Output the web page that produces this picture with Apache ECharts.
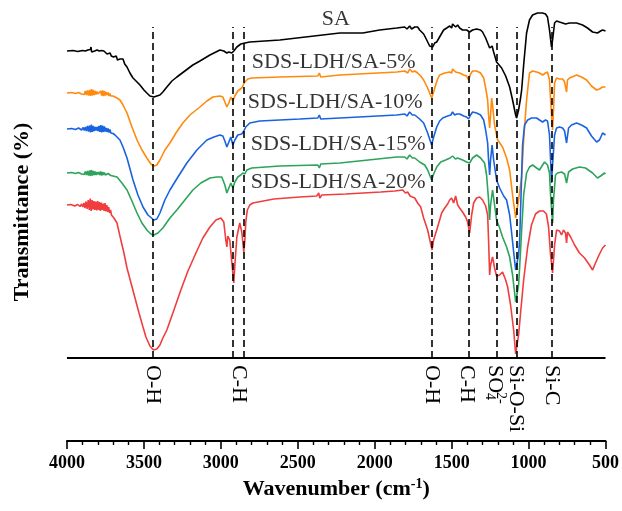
<!DOCTYPE html>
<html>
<head>
<meta charset="utf-8">
<script src="https://cdn.jsdelivr.net/npm/echarts@6/dist/echarts.min.js"></script>
<style>
  html, body { margin: 0; padding: 0; background: #fff; }
  #chart { width: 622px; height: 511px; }
</style>
</head>
<body>
<div id="chart"></div>
<script>
// FTIR spectra, stacked with vertical offsets: [wavenumber (cm-1), offset transmittance]
const seriesNames = ['SA', 'SDS-LDH/SA-5%', 'SDS-LDH/SA-10%', 'SDS-LDH/SA-15%', 'SDS-LDH/SA-20%'];
const seriesColors = ['#000000', '#ff8a0e', '#1a63e0', '#2ea35c', '#f03e3e'];

const spectrumSA = [
  [4000,307],[3960,307.5],[3930,306.5],[3900,307.5],[3880,307],[3865,308],[3855,306.5],[3848,308.5],[3844,311],[3840,306],
  [3832,308],[3820,307],[3805,308],[3790,307],[3775,307.5],[3760,307],[3750,306],[3740,304],[3730,303],[3720,305],
  [3712,302],[3705,304],[3698,301],[3690,303],[3680,302],[3672,298],[3665,300],[3656,299],[3645,297],[3636,299],
  [3625,294],[3610,291],[3591,285],[3571,280],[3545,276],[3526,273],[3500,268],[3481,265],[3461,262],[3435,261],
  [3416,262],[3396,263],[3377,266],[3351,271],[3318,277],[3286,281],[3234,287],[3182,293],[3136,297],[3071,303],
  [3006,308],[2981,307],[2961,305],[2948,306],[2929,305],[2916,307],[2896,311],[2870,314],[2844,315],[2812,316],
  [2617,318],[2227,325],[2078,325],[1968,328],[1857,330],[1805,331],[1790,329],[1773,332],[1760,329],[1740,331],
  [1721,331],[1708,328],[1682,324],[1662,318],[1643,312],[1633,310],[1623,311],[1610,315],[1597,316],[1571,323],
  [1552,328],[1532,330],[1513,332],[1500,330],[1494,334],[1474,331],[1461,333],[1448,330],[1429,328],[1403,328],
  [1383,326],[1364,328],[1338,329],[1312,328],[1299,326],[1279,320],[1266,315],[1253,310],[1247,308],[1237,312],
  [1227,306],[1208,296],[1175,290],[1149,282],[1123,271],[1104,258],[1084,243],[1078,240],[1065,248],[1052,260],
  [1045,268],[1032,293],[1013,325],[994,338],[974,343],[942,345],[909,345],[890,344],[877,341],[864,328],
  [851,311],[844,318],[831,335],[818,337],[799,336],[779,335],[760,334],[753,336],[734,335],[688,335],
  [649,333],[617,330],[584,326],[552,325],[532,327],[519,328],[500,327]
];

const spectrum5 = [
  [4000,265],[3970,265.5],[3945,264.5],[3925,265.5],[3905,264],[3895,266],[3888,263.5],[3881,267],[3874,263],[3867,267.5],
  [3860,262.5],[3853,268],[3847,262],[3841,269],[3835,262.5],[3829,268],[3823,263],[3817,267],[3811,263.5],[3805,266.5],
  [3799,264],[3793,266],[3787,263.5],[3781,267],[3775,262.5],[3769,267.5],[3763,262],[3757,267],[3751,262.5],[3745,266],
  [3739,263],[3733,265.5],[3727,262],[3721,264.5],[3715,262],[3709,263],[3701,262],[3688,261],[3675,260],[3656,258],
  [3636,253],[3610,245],[3578,231],[3545,218],[3513,208],[3481,200],[3455,194],[3435,192],[3416,193],[3396,198],
  [3364,208],[3331,215],[3292,225],[3247,235],[3201,243],[3136,251],[3091,257],[3052,261],[3006,262],[2987,261],
  [2974,256],[2961,251],[2948,255],[2935,261],[2922,257],[2909,262],[2890,267],[2864,270],[2844,276],[2825,279],
  [2799,280],[2617,281],[2370,282],[2360,285],[2351,281],[2227,283],[1857,286],[1805,287],[1785,285],[1773,289],
  [1755,286],[1740,287],[1721,285],[1701,282],[1682,278],[1656,270],[1643,265],[1630,260],[1617,266],[1604,273],
  [1591,279],[1578,283],[1545,285],[1513,286],[1500,285],[1494,289],[1474,286],[1448,285],[1422,283],[1403,282],
  [1390,278],[1377,284],[1364,287],[1338,287],[1312,285],[1292,280],[1279,270],[1266,258],[1260,243],[1253,230],
  [1247,243],[1240,260],[1234,253],[1221,233],[1201,218],[1169,211],[1143,200],[1123,188],[1104,163],[1084,140],
  [1078,142],[1065,158],[1045,181],[1032,218],[1013,258],[994,285],[974,287],[948,286],[929,285],[909,283],
  [890,285],[877,286],[864,278],[857,258],[844,228],[838,248],[831,275],[818,280],[799,279],[779,279],
  [766,276],[753,266],[747,278],[734,280],[688,283],[656,281],[623,278],[591,272],[558,268],[539,269],
  [519,271],[500,271]
];

const spectrum10 = [
  [4000,229],[3970,229.5],[3945,228.5],[3925,230],[3905,228],[3895,230.5],[3888,227.5],[3881,231],[3874,227],[3867,232],
  [3860,226.5],[3853,232.5],[3847,225.5],[3841,233.5],[3835,226],[3829,232],[3823,227],[3817,231],[3811,227.5],[3805,231],
  [3799,227],[3793,232],[3787,226],[3781,233],[3775,225.5],[3769,232.5],[3763,226],[3757,231.5],[3751,226.5],[3745,230],
  [3739,226],[3733,229.5],[3727,225.5],[3721,228.5],[3715,225],[3709,227],[3701,224.5],[3688,223],[3656,218],[3636,211],
  [3610,200],[3571,178],[3539,163],[3506,151],[3474,143],[3435,138],[3416,139],[3396,145],[3364,158],[3331,168],
  [3279,181],[3221,195],[3156,208],[3091,218],[3045,221],[3006,223],[2987,222],[2974,217],[2961,211],[2948,216],
  [2935,221],[2922,213],[2909,218],[2890,223],[2864,224],[2851,227],[2838,231],[2812,235],[2747,237],[2487,239],
  [2370,240],[2360,243],[2351,239],[2227,240],[1857,243],[1805,244],[1790,242],[1773,246],[1755,243],[1740,243],
  [1708,239],[1682,235],[1656,225],[1643,219],[1630,213],[1617,221],[1597,231],[1578,237],[1558,240],[1526,242],
  [1505,243],[1494,246],[1480,243],[1467,244],[1448,244],[1422,242],[1403,241],[1390,239],[1377,243],[1364,246],
  [1338,245],[1312,243],[1292,238],[1279,228],[1266,215],[1260,198],[1253,183],[1247,198],[1237,213],[1227,198],
  [1208,178],[1188,170],[1162,162],[1143,158],[1123,143],[1110,125],[1097,106],[1084,88],[1078,90],[1065,103],
  [1058,118],[1052,148],[1045,183],[1039,213],[1026,233],[1006,238],[981,240],[948,240],[929,238],[909,236],
  [890,238],[877,237],[864,223],[857,198],[851,175],[844,193],[831,223],[818,230],[799,231],[779,230],
  [766,227],[753,215],[740,230],[721,233],[688,235],[656,233],[623,230],[591,222],[558,216],[539,218],
  [519,225],[500,223]
];

const spectrum15 = [
  [4000,185],[3970,185.5],[3945,184.5],[3925,185.5],[3905,184],[3895,186],[3888,183.5],[3881,186.5],[3874,183],[3867,187],
  [3860,182.5],[3853,187.5],[3847,182],[3841,188],[3835,182.5],[3829,187],[3823,183],[3817,186.5],[3811,183],[3805,186],
  [3799,183.5],[3793,186],[3787,183],[3781,186.5],[3775,182.5],[3769,186],[3763,183],[3757,185.5],[3751,183],[3745,185],
  [3739,183],[3733,184.5],[3727,182.5],[3721,184],[3715,182.5],[3709,183],[3701,182],[3675,181],[3643,175],[3610,168],
  [3578,157],[3545,145],[3513,135],[3481,128],[3455,124],[3435,123],[3409,125],[3377,130],[3331,140],[3286,148],
  [3234,158],[3182,168],[3130,175],[3071,180],[3026,181],[2994,181],[2974,173],[2961,165],[2948,170],[2935,175],
  [2922,170],[2909,176],[2890,181],[2870,183],[2857,185],[2844,184],[2831,188],[2799,190],[2617,192],[2370,193],
  [2360,190],[2351,194],[2227,195],[1857,201],[1805,201],[1790,199],[1773,203],[1755,200],[1740,200],[1708,196],
  [1675,193],[1656,188],[1643,183],[1630,178],[1617,184],[1597,191],[1571,196],[1539,198],[1510,200],[1494,202],
  [1475,199],[1461,200],[1429,198],[1403,196],[1383,195],[1364,200],[1338,203],[1312,200],[1286,195],[1273,183],
  [1260,158],[1253,138],[1247,153],[1234,168],[1221,153],[1208,138],[1188,130],[1169,121],[1143,111],[1123,101],
  [1104,83],[1084,56],[1078,58],[1065,73],[1058,91],[1045,128],[1032,163],[1013,185],[994,191],[974,193],
  [948,190],[929,188],[909,193],[896,196],[877,193],[864,185],[857,163],[844,135],[838,158],[825,183],
  [812,185],[786,186],[766,184],[753,175],[740,186],[714,189],[669,191],[630,190],[584,185],[552,180],
  [532,182],[506,185],[500,184]
];

const spectrum20 = [
  [4000,153],[3975,153.5],[3950,152],[3930,153.5],[3915,151.5],[3905,154],[3897,151],[3890,155],[3883,150],[3876,156.5],
  [3869,149],[3862,158],[3855,148],[3849,159.5],[3843,147],[3837,158],[3831,148.5],[3825,157],[3819,148],[3813,156.5],
  [3807,147.5],[3801,157],[3795,148],[3789,156],[3783,147],[3777,155.5],[3771,148],[3765,154.5],[3759,147],[3753,155],
  [3747,146.5],[3741,153],[3735,146],[3729,151],[3723,145],[3717,148],[3711,143],[3704,144],[3695,140],[3675,135],
  [3656,122],[3630,105],[3610,90],[3584,75],[3558,60],[3532,45],[3506,31],[3487,21],[3461,12],[3438,8],
  [3416,9],[3396,13],[3377,20],[3351,28],[3305,48],[3260,68],[3214,87],[3162,105],[3117,120],[3071,131],
  [3032,138],[3000,140],[2981,136],[2968,118],[2961,111],[2955,122],[2942,118],[2929,96],[2916,75],[2909,93],
  [2896,121],[2877,135],[2864,126],[2851,106],[2844,118],[2838,136],[2828,148],[2812,153],[2792,155],[2656,159],
  [2487,161],[2377,162],[2364,165],[2357,160],[2344,163],[2188,164],[1961,166],[1870,167],[1818,168],[1800,165],
  [1786,166],[1770,162],[1760,163],[1740,160],[1721,155],[1701,151],[1682,140],[1656,128],[1636,114],[1627,108],
  [1617,118],[1597,128],[1578,138],[1565,145],[1545,150],[1526,154],[1513,158],[1500,160],[1487,155],[1474,162],
  [1461,153],[1448,150],[1429,146],[1409,141],[1396,136],[1383,125],[1370,143],[1357,155],[1338,160],[1318,161],
  [1299,158],[1279,152],[1266,143],[1260,118],[1253,83],[1247,93],[1234,101],[1221,90],[1208,82],[1188,83],
  [1169,86],[1149,78],[1136,71],[1117,53],[1097,28],[1084,4],[1078,5],[1065,23],[1052,45],[1032,78],
  [1006,111],[981,133],[955,144],[929,147],[903,147],[884,144],[870,131],[857,103],[844,85],[831,113],
  [818,128],[799,127],[786,123],[773,128],[760,125],[753,115],[747,126],[727,121],[701,113],[669,105],
  [636,100],[604,93],[584,88],[565,95],[545,102],[519,110],[500,113]
];

const spectra = [spectrumSA, spectrum5, spectrum10, spectrum15, spectrum20];

// Name tags next to each trace: [wavenumber at left edge of text, offset value]
const seriesTagPos = [[2344,339],[2799,296],[2825,256],[2805,214],[2805,176]];

// Band assignments: dashed guide positions and the labels under the base line
const bandLines = [3440, 2920, 2850, 1630, 1390, 1210, 1080, 850];
const bandLineTop = 331;
const bandLabels = [
  [3440, 'O-H'], [2885, 'C-H'], [1630, 'O-H'], [1400, 'C-H'],
  [1222, 'SO4'], [1080, 'Si-O-Si'], [850, 'Si-C']
];

// X axis range and tick step
const xMin = 500, xMax = 4000, xStep = 500;

const FONT = '"Liberation Serif", "Times New Roman", serif';

const chart = echarts.init(document.getElementById('chart'), null, { renderer: 'canvas' });

const lineSeries = spectra.map((d, i) => ({
  name: seriesNames[i],
  type: 'line',
  data: d,
  showSymbol: false,
  symbol: 'none',
  lineStyle: { color: seriesColors[i], width: 1.6 },
  itemStyle: { color: seriesColors[i] },
  z: 3,
  animation: false
}));

const tagSeries = {
  type: 'scatter',
  symbolSize: 0,
  silent: true,
  data: seriesTagPos.map((p, i) => ({ value: p, name: seriesNames[i] })),
  label: {
    show: true,
    position: 'inside',
    align: 'left',
    verticalAlign: 'middle',
    formatter: p => p.name,
    fontFamily: FONT,
    fontSize: 22,
    color: '#000'
  },
  z: 6,
  animation: false
};

const guideSeries = {
  type: 'line',
  data: [],
  silent: true,
  z: 5,
  markLine: {
    symbol: 'none',
    silent: true,
    label: { show: false },
    animation: false,
    data: [
      { yAxis: 0, lineStyle: { type: 'solid', width: 2, color: '#000' } },
      ...bandLines.map(w => [
        { coord: [w, 0], lineStyle: { type: [7, 4], width: 1.6, color: '#000' } },
        { coord: [w, bandLineTop] }
      ])
    ]
  },
  animation: false
};

const bandLabelSeries = {
  type: 'custom',
  silent: true,
  data: bandLabels.map(b => [b[0], 0]),
  renderItem: function (params, api) {
    const p = api.coord([api.value(0), 0]);
    const txt = bandLabels[params.dataIndex][1];
    const base = { font: '22px ' + FONT, fill: '#000', align: 'left', verticalAlign: 'middle' };
    if (txt === 'SO4') {
      const small = { font: '14px ' + FONT, fill: '#000', align: 'left', verticalAlign: 'middle' };
      return {
        type: 'group', x: p[0], y: p[1] + 7, rotation: -Math.PI / 2,
        children: [
          { type: 'text', style: Object.assign({}, base, { text: 'SO', x: 0, y: 0 }) },
          { type: 'text', style: Object.assign({}, small, { text: '4', x: 28, y: 5 }) },
          { type: 'text', style: Object.assign({}, small, { text: '2-', x: 27, y: -6 }) }
        ]
      };
    }
    return {
      type: 'text', x: p[0], y: p[1] + 7, rotation: -Math.PI / 2,
      style: Object.assign({}, base, { text: txt })
    };
  },
  z: 6,
  animation: false
};

chart.setOption({
  animation: false,
  backgroundColor: '#fff',
  grid: { left: 67, right: 16, top: 10, bottom: 70 },
  xAxis: {
    type: 'value',
    min: xMin,
    max: xMax,
    interval: xStep,
    inverse: true,
    name: 'Wavenumber (cm{sup|-1})',
    nameLocation: 'middle',
    nameGap: 36,
    nameTextStyle: {
      fontFamily: FONT, fontSize: 22, fontWeight: 'bold', color: '#000',
      rich: {
        sup: { fontFamily: FONT, fontSize: 14, fontWeight: 'bold', color: '#000', verticalAlign: 'top', padding: [0, 0, 10, 0] }
      }
    },
    axisLine: { show: true, onZero: false, lineStyle: { color: '#000', width: 2 } },
    axisTick: { show: true, inside: false, length: 8, lineStyle: { color: '#000', width: 1.6 } },
    minorTick: { show: true, splitNumber: 5, length: 4, lineStyle: { color: '#000', width: 1.4 } },
    splitLine: { show: false },
    axisLabel: {
      fontFamily: FONT, fontSize: 18, fontWeight: 'bold', color: '#000', margin: 13,
      formatter: v => String(v)
    }
  },
  yAxis: {
    type: 'value',
    min: -83,
    max: 348,
    show: false
  },
  graphic: [{
    type: 'text',
    x: 22, y: 212,
    rotation: Math.PI / 2,
    style: {
      text: 'Transmittance (%)',
      font: 'bold 22px ' + FONT,
      fill: '#000',
      align: 'center',
      verticalAlign: 'middle'
    }
  }],
  series: [...lineSeries, guideSeries, tagSeries, bandLabelSeries]
});
</script>
</body>
</html>
